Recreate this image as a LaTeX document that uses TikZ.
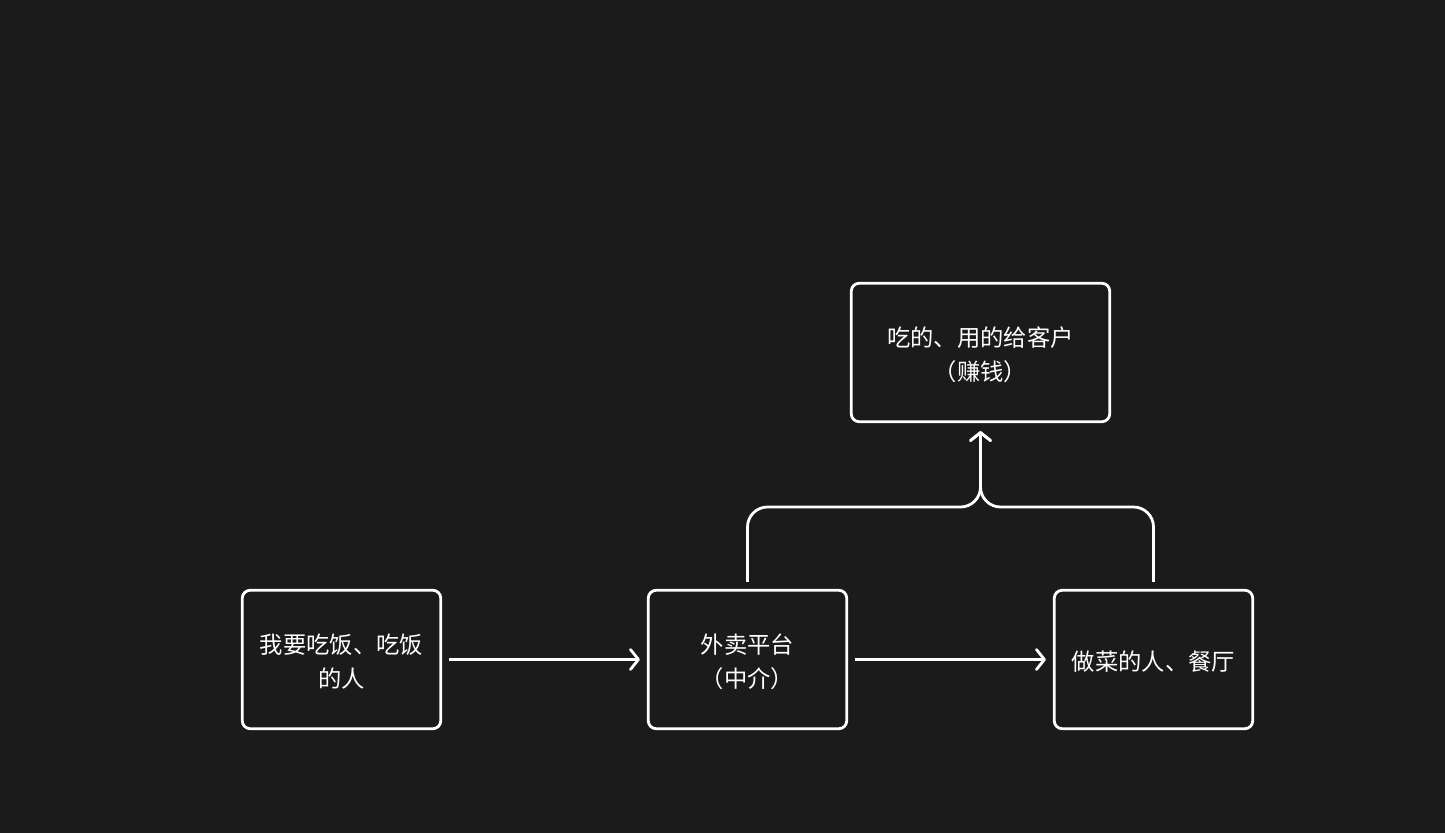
\documentclass[tikz,border=0pt]{standalone}
\usepackage{fontspec}
\newfontfamily\cjk{Noto Sans CJK SC}
\usetikzlibrary{arrows.meta}
\definecolor{bgc}{HTML}{1B1B1B}
\newcommand\boxtxt[1]{\raisebox{-4pt}[\height][\depth]{\begin{tabular}{@{}c@{}}#1\end{tabular}}}
\begin{document}
\begin{tikzpicture}[x=1pt,y=-1pt,
  box/.style={draw=white, line width=2.8pt, rounded corners=8pt, minimum width=198.5pt, minimum height=138.5pt, align=center, text=white, font=\cjk\fontsize{23.3}{34}\selectfont, inner sep=0pt},
  conn/.style={draw=white, line width=2.8pt, -{Straight Barb[length=8pt,width=20pt,line width=2.8pt, round]}},
]
\fill[bgc] (0,0) rectangle (1445,833);
\useasboundingbox (0,0) rectangle (1445,833);
\node[box] (A) at (341.5,659.5) {\boxtxt{我要吃饭、吃饭\\的人}};
\node[box] (B) at (747.5,659.5) {\boxtxt{外卖平台\\（中介）}};
\node[box] (C) at (1153.5,659.5) {\boxtxt{做菜的人、餐厅}};
\node[box, minimum width=258.5pt] (T) at (980.5,352.5) {\boxtxt{吃的、用的给客户\\（赚钱）}};
\coordinate (J) at (980.5,507);
\draw[conn, shorten <=7pt, shorten >=7pt] (A.east) -- (B.west);
\draw[conn, shorten <=7pt, shorten >=7pt] (B.east) -- (C.west);
\draw[conn, rounded corners=20pt, shorten <=7pt, shorten >=8pt] (B.north) |- (J) -- (T.south);
\draw[conn, rounded corners=20pt, shorten <=7pt, shorten >=8pt] (C.north) |- (J) -- (T.south);
\end{tikzpicture}
\end{document}
